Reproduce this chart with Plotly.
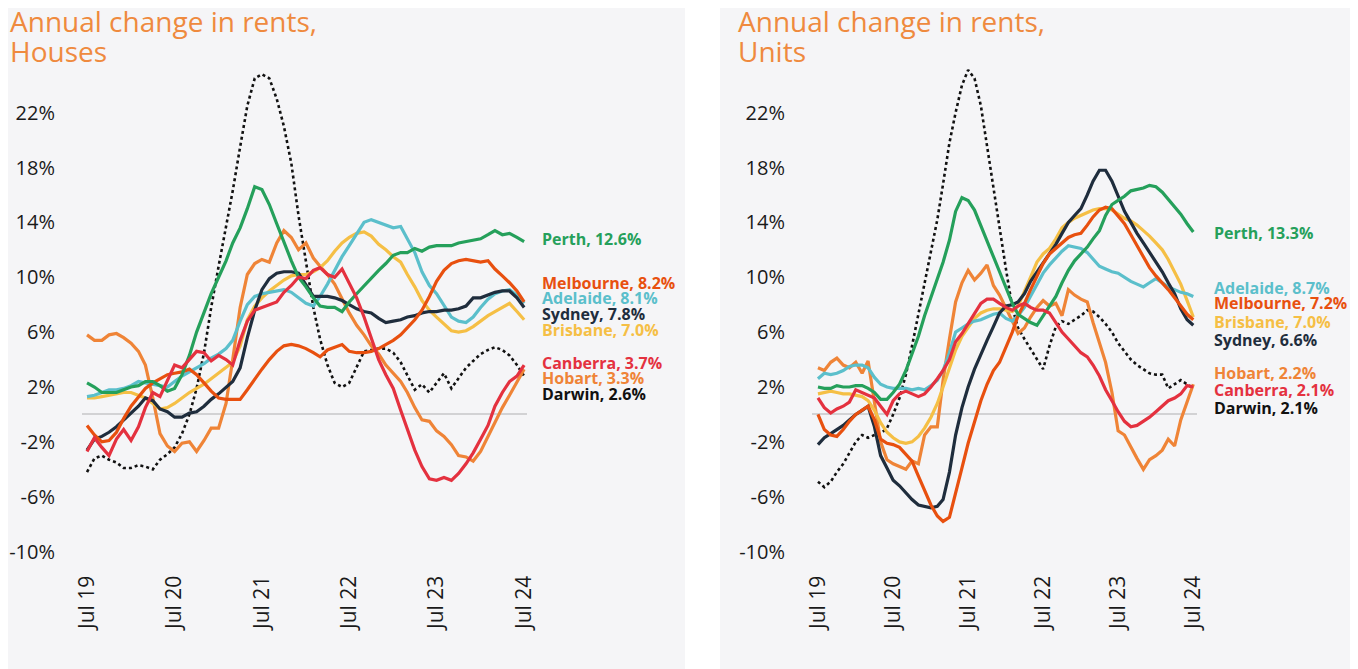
import pandas as pd
import plotly.graph_objects as go

# ---------------- DATA ----------------
months = pd.date_range("2019-07-01", periods=61, freq="MS")
tick_dates = ["2019-07-01", "2020-07-01", "2021-07-01", "2022-07-01", "2023-07-01", "2024-07-01"]
tick_labels = ["Jul 19", "Jul 20", "Jul 21", "Jul 22", "Jul 23", "Jul 24"]
y_ticks = [-10, -6, -2, 2, 6, 10, 14, 18, 22]
y_tick_labels = ["-10%", "-6%", "-2%", "2%", "6%", "10%", "14%", "18%", "22%"]

cities = ["Darwin", "Hobart", "Brisbane", "Adelaide", "Sydney", "Melbourne", "Perth", "Canberra"]

# Houses
houses_perth = [2.3, 2.0, 1.6, 1.6, 1.6, 1.8, 2.0, 2.1, 2.4, 2.4, 2.1, 1.7, 1.9, 2.9, 4.3, 6.0, 7.5, 8.8, 10.0, 11.2,
                12.5, 13.6, 15.0, 16.6, 16.4, 15.3, 13.9, 12.5, 11.2, 10.0, 9.3, 8.5, 7.9, 7.8, 7.8, 7.5, 8.2, 8.8, 9.4, 9.9,
                10.5, 11.0, 11.6, 11.8, 11.8, 12.1, 11.9, 12.2, 12.3, 12.3, 12.3, 12.5, 12.6, 12.7, 12.8, 13.1, 13.4, 13.1, 13.2, 12.9, 12.6]
houses_melbourne = [-0.8, -1.5, -2.0, -1.9, -1.3, -0.3, 0.6, 1.3, 1.9, 2.3, 2.6, 2.9, 3.0, 3.1, 3.3, 2.9, 2.3, 1.7, 1.2, 1.1,
                    1.1, 1.1, 1.8, 2.6, 3.3, 4.0, 4.6, 5.0, 5.1, 5.0, 4.8, 4.5, 4.2, 4.7, 4.9, 5.1, 4.6, 4.5, 4.5, 4.6,
                    4.8, 5.1, 5.4, 5.8, 6.3, 6.9, 7.6, 8.6, 9.7, 10.5, 11.0, 11.2, 11.3, 11.2, 11.1, 11.2, 10.6, 10.1, 9.6, 9.0, 8.2]
houses_adelaide = [1.3, 1.4, 1.6, 1.8, 1.8, 1.9, 2.1, 2.4, 2.3, 2.2, 2.1, 2.0, 2.4, 2.8, 3.1, 3.4, 3.7, 4.1, 4.4, 4.8,
                   5.4, 6.8, 8.0, 8.6, 8.8, 8.9, 9.0, 9.1, 8.9, 8.5, 8.1, 7.9, 8.6, 9.5, 10.5, 11.5, 12.3, 13.2, 14.0, 14.2,
                   14.0, 13.8, 13.6, 13.7, 12.8, 11.8, 10.4, 9.4, 8.8, 8.0, 7.1, 6.8, 6.7, 7.1, 7.8, 8.4, 8.8, 9.0, 9.1, 8.7, 8.1]
houses_sydney = [-2.6, -1.8, -1.6, -1.3, -0.9, -0.4, 0.1, 0.6, 1.2, 1.0, 0.4, 0.2, -0.2, -0.2, 0.1, 0.2, 0.6, 1.1, 1.5, 2.0,
                 2.4, 3.4, 5.6, 7.6, 9.1, 9.9, 10.3, 10.4, 10.4, 10.3, 9.5, 8.6, 8.6, 8.6, 8.5, 8.3, 8.0, 7.7, 7.5, 7.4,
                 7.0, 6.7, 6.8, 6.9, 7.1, 7.2, 7.4, 7.5, 7.5, 7.6, 7.6, 7.7, 7.9, 8.5, 8.5, 8.7, 8.9, 9.0, 9.0, 8.5, 7.8]
houses_brisbane = [1.2, 1.2, 1.3, 1.4, 1.5, 1.6, 1.6, 1.4, 1.2, 0.8, 0.4, 0.5, 0.8, 1.2, 1.6, 1.9, 2.2, 2.6, 3.0, 3.4,
                   3.8, 5.0, 6.9, 7.9, 8.5, 9.0, 9.4, 9.8, 10.1, 10.2, 10.2, 10.4, 10.7, 11.2, 11.9, 12.5, 12.9, 13.2, 13.3, 13.0,
                   12.4, 12.0, 11.5, 11.1, 10.2, 9.3, 8.3, 7.6, 7.1, 6.6, 6.1, 6.0, 6.1, 6.4, 6.8, 7.2, 7.5, 7.8, 8.1, 7.5, 6.9]
houses_canberra = [-2.7, -1.7, -2.4, -3.0, -1.8, -1.1, -1.9, -0.9, 0.5, 1.6, 1.3, 2.5, 3.6, 3.4, 4.0, 4.6, 4.5, 3.9, 4.3, 4.0,
                   3.6, 5.4, 6.8, 7.6, 7.8, 8.0, 8.2, 8.9, 9.4, 10.0, 9.9, 10.5, 10.7, 10.2, 10.0, 10.6, 9.6, 8.5, 7.1, 5.5,
                   4.0, 2.9, 1.9, 0.3, -1.1, -2.6, -3.8, -4.7, -4.8, -4.6, -4.8, -4.3, -3.6, -2.8, -1.8, -0.8, 0.6, 1.6, 2.4, 2.8, 3.6]
houses_hobart = [5.8, 5.4, 5.4, 5.8, 5.9, 5.6, 5.2, 4.6, 3.6, 1.2, -1.4, -2.3, -2.7, -2.1, -2.0, -2.7, -1.9, -1.0, -1.0, 0.8,
                 4.0, 7.8, 10.2, 11.0, 11.3, 11.1, 12.5, 13.4, 12.9, 12.0, 12.5, 11.4, 10.8, 10.2, 9.5, 8.4, 7.4, 6.5, 5.8, 5.0,
                 4.4, 3.6, 3.0, 2.4, 1.6, 0.5, -0.4, -0.5, -1.2, -1.6, -2.2, -3.0, -3.1, -3.4, -2.7, -1.6, -0.5, 0.5, 1.4, 2.4, 3.3]
houses_darwin = [-4.2, -3.2, -3.0, -3.3, -3.5, -3.9, -3.9, -3.7, -3.8, -4.0, -3.3, -2.9, -2.4, -1.4, 0.0, 1.9, 4.5, 7.8, 10.8, 13.6,
                 16.3, 19.5, 22.5, 24.5, 24.8, 24.5, 23.0, 21.0, 18.3, 14.5, 11.0, 7.8, 5.5, 3.6, 2.3, 2.0, 2.3, 3.5, 4.6, 4.7,
                 4.8, 4.8, 4.5, 3.8, 2.8, 1.8, 2.2, 1.6, 2.3, 3.0, 1.9, 2.6, 3.4, 3.9, 4.4, 4.7, 4.9, 4.7, 4.3, 3.6, 2.8]

# Units
units_perth = [2.0, 1.9, 1.9, 2.1, 2.0, 2.0, 2.1, 2.1, 1.9, 1.6, 1.1, 1.1, 1.6, 2.2, 3.2, 4.5, 5.7, 7.2, 8.6, 9.9,
               11.1, 12.7, 14.8, 15.8, 15.6, 14.9, 13.8, 12.6, 11.5, 10.4, 9.2, 8.1, 7.3, 7.0, 6.7, 6.5, 7.2, 7.9, 8.6, 9.6,
               10.5, 11.2, 11.7, 12.2, 12.8, 13.4, 14.5, 15.3, 15.6, 15.9, 16.3, 16.4, 16.5, 16.7, 16.6, 16.2, 15.7, 15.2, 14.6, 13.9, 13.3]
units_adelaide = [2.6, 3.0, 2.9, 3.0, 3.2, 3.5, 3.6, 3.6, 3.4, 2.7, 2.2, 2.0, 1.9, 1.9, 1.9, 1.8, 1.9, 1.8, 2.1, 2.5,
                  3.2, 4.5, 6.0, 6.3, 6.6, 6.8, 6.9, 7.1, 7.3, 7.4, 7.0, 6.8, 7.2, 7.8, 8.6, 9.4, 10.3, 10.9, 11.4, 11.9,
                  12.3, 12.2, 12.1, 11.8, 11.3, 10.8, 10.6, 10.4, 10.3, 10.0, 9.7, 9.5, 9.3, 9.6, 9.9, 9.6, 9.3, 9.1, 8.9, 8.8, 8.6]
units_melbourne = [0.0, -1.1, -1.5, -1.6, -1.1, -0.5, 0.0, 0.3, 0.6, -0.4, -1.8, -2.1, -2.2, -2.4, -2.9, -3.4, -4.5, -5.6, -6.6, -7.4,
                   -7.8, -7.5, -5.8, -3.9, -2.1, -0.5, 1.0, 2.2, 3.2, 3.8, 4.9, 6.0, 7.2, 8.1, 9.1, 10.1, 11.0, 11.7, 12.1, 12.5,
                   12.9, 13.1, 13.2, 13.8, 14.4, 14.9, 15.1, 15.0, 14.5, 13.9, 13.1, 12.3, 11.5, 10.7, 10.1, 9.6, 9.1, 8.5, 7.9, 7.3, 6.9]
units_sydney = [-2.2, -1.7, -1.4, -1.1, -0.8, -0.4, 0.0, 0.3, 0.6, -0.9, -3.0, -3.9, -4.8, -5.2, -5.7, -6.2, -6.6, -6.7, -6.8, -6.7,
                -6.2, -4.2, -1.5, 0.5, 2.0, 3.3, 4.4, 5.4, 6.4, 7.4, 7.9, 8.0, 8.2, 8.8, 9.7, 10.4, 11.0, 11.7, 12.4, 13.2,
                14.0, 14.5, 15.0, 16.0, 17.0, 17.8, 17.8, 17.0, 15.9, 14.8, 14.0, 13.2, 12.5, 11.8, 11.1, 10.4, 9.6, 8.8, 7.7, 6.9, 6.5]
units_brisbane = [1.5, 1.6, 1.7, 1.6, 1.5, 1.5, 1.4, 1.3, 1.0, 0.3, -0.6, -1.3, -1.7, -2.0, -2.1, -2.0, -1.6, -1.0, -0.2, 0.8,
                  2.0, 3.4, 4.7, 5.7, 6.3, 7.0, 7.4, 7.6, 7.7, 7.7, 7.6, 7.5, 7.9, 8.9, 10.0, 11.1, 11.7, 12.1, 12.8, 13.6,
                  14.0, 14.3, 14.5, 14.7, 14.9, 15.0, 15.0, 14.9, 14.6, 14.3, 14.1, 13.8, 13.4, 13.0, 12.5, 12.0, 11.3, 10.4, 9.5, 8.3, 7.1]
units_canberra = [1.2, 0.5, 0.1, 0.4, 0.6, 0.9, 1.8, 1.6, 1.4, 1.2, 0.6, 0.0, 1.0, 1.5, 1.7, 1.5, 1.3, 1.5, 2.0, 2.6,
                  3.2, 4.0, 5.3, 5.9, 6.6, 7.4, 8.1, 8.4, 8.4, 8.1, 7.8, 7.6, 7.9, 8.1, 7.8, 7.6, 7.6, 7.4, 6.7, 6.0,
                  5.5, 5.0, 4.5, 4.2, 3.6, 2.8, 1.8, 1.0, 0.2, -0.5, -0.9, -0.8, -0.5, -0.2, 0.2, 0.6, 1.0, 1.2, 1.5, 2.1, 2.0]
units_hobart = [3.4, 3.2, 3.8, 4.1, 3.6, 3.4, 3.8, 3.0, 3.9, 0.8, -2.0, -3.3, -3.6, -3.8, -4.0, -3.4, -3.6, -1.5, -0.9, -0.9,
                2.5, 5.5, 8.2, 9.6, 10.5, 9.8, 10.3, 10.9, 9.4, 8.7, 7.8, 6.8, 5.9, 6.3, 7.1, 7.8, 8.3, 7.9, 8.1, 7.2,
                9.1, 8.7, 8.4, 8.2, 6.7, 5.3, 3.8, 1.6, -1.2, -1.5, -2.4, -3.2, -4.0, -3.3, -3.0, -2.6, -1.8, -2.3, -0.4, 1.0, 2.2]
units_darwin = [-4.9, -5.3, -4.9, -4.2, -3.6, -2.8, -2.0, -1.5, -1.7, -1.5, -1.4, -1.0, 0.0, 1.2, 2.9, 5.0, 7.3, 9.5, 12.0, 14.2,
                16.8, 19.8, 22.0, 24.0, 25.1, 24.5, 22.5, 19.5, 16.5, 13.5, 10.6, 7.8, 6.3, 5.5, 4.8, 4.0, 3.3, 5.0, 6.4, 6.8,
                6.6, 6.9, 7.2, 7.6, 7.5, 7.1, 6.6, 6.0, 5.2, 4.6, 4.0, 3.6, 3.3, 3.0, 2.9, 2.9, 1.9, 2.2, 2.5, 2.2, 1.9]

# Latest values shown in end labels
houses_latest = {"Perth": 12.6, "Melbourne": 8.2, "Adelaide": 8.1, "Sydney": 7.8, "Brisbane": 7.0,
                 "Canberra": 3.7, "Hobart": 3.3, "Darwin": 2.6}
units_latest = {"Perth": 13.3, "Adelaide": 8.7, "Melbourne": 7.2, "Brisbane": 7.0, "Sydney": 6.6,
                "Hobart": 2.2, "Canberra": 2.1, "Darwin": 2.1}

houses = {"Perth": houses_perth, "Melbourne": houses_melbourne, "Adelaide": houses_adelaide, "Sydney": houses_sydney,
          "Brisbane": houses_brisbane, "Canberra": houses_canberra, "Hobart": houses_hobart, "Darwin": houses_darwin}
units = {"Perth": units_perth, "Melbourne": units_melbourne, "Adelaide": units_adelaide, "Sydney": units_sydney,
         "Brisbane": units_brisbane, "Canberra": units_canberra, "Hobart": units_hobart, "Darwin": units_darwin}

# ---------------- STYLE ----------------
colors = {"Perth": "#25a05b", "Melbourne": "#e8500f", "Adelaide": "#5bbfcb", "Sydney": "#1f2d3d",
          "Brisbane": "#f5bf45", "Canberra": "#e4313f", "Hobart": "#ef8437", "Darwin": "#111111"}
W, H = 1358, 669
OFF = 8  # page body margin offset
FONT = "Open Sans"
TITLE_COLOR = "#ef8a3e"
PANEL_BG = "#f5f5f7"

def px_x(p):
    return (p - OFF) / W

def px_y(p):
    return 1 - (p - OFF) / H

fig = go.Figure()

for xa, ya, data in [("x", "y", houses), ("x2", "y2", units)]:
    for c in cities:
        fig.add_trace(go.Scatter(
            x=months, y=data[c], mode="lines", name=c, xaxis=xa, yaxis=ya,
            line=dict(color=colors[c], width=3.2 if c != "Darwin" else 2.6,
                      dash="dot" if c == "Darwin" else "solid"),
            showlegend=False, hoverinfo="skip"))

axis_y = dict(range=[-10.5, 25.5], tickmode="array", tickvals=y_ticks, ticktext=y_tick_labels,
              showgrid=False, automargin=False,
              zeroline=True, zerolinecolor="#d2d2d4", zerolinewidth=2, showline=False,
              ticks="", ticklabelstandoff=26, tickfont=dict(family=FONT, size=20, color="#1a1a1a"))
axis_x = dict(type="date", tickmode="array", tickvals=tick_dates, ticktext=tick_labels, tickangle=-90,
              showgrid=False, automargin=False,
              zeroline=False, showline=False, ticks="", ticklabelstandoff=12,
              tickfont=dict(family=FONT, size=21, color="#1a1a1a"))

shapes = [
    dict(type="rect", xref="paper", yref="paper", x0=px_x(685), x1=px_x(720), y0=0, y1=1,
         fillcolor="white", line=dict(width=0), layer="below"),
]

annotations = []
for x0, lines in [(8, ["Annual change in rents,", "Houses"]), (736, ["Annual change in rents,", "Units"])]:
    for i, t in enumerate(lines):
        annotations.append(dict(text=t, xref="paper", yref="paper", x=px_x(x0), y=px_y(21 + 30 * i),
                                xanchor="left", yanchor="middle", showarrow=False,
                                font=dict(family=FONT, size=28, color=TITLE_COLOR)))

houses_label_y = {"Perth": 239, "Melbourne": 283, "Adelaide": 298, "Sydney": 314, "Brisbane": 330,
                  "Canberra": 363, "Hobart": 378, "Darwin": 394}
units_label_y = {"Perth": 233, "Adelaide": 288, "Melbourne": 303, "Brisbane": 322, "Sydney": 340,
                 "Hobart": 373, "Canberra": 390, "Darwin": 408}
for x0, latest, ly in [(540, houses_latest, houses_label_y), (1212, units_latest, units_label_y)]:
    for c, v in latest.items():
        annotations.append(dict(text=f"<b>{c}, {v:.1f}%</b>", xref="paper", yref="paper",
                                x=px_x(x0), y=px_y(ly[c]), xanchor="left", yanchor="middle", showarrow=False,
                                font=dict(family=FONT, size=16, color=colors[c])))

fig.update_layout(
    width=W, height=H, margin=dict(l=0, r=0, t=0, b=0, autoexpand=False),
    paper_bgcolor=PANEL_BG, plot_bgcolor="rgba(0,0,0,0)",
    xaxis=dict(axis_x, domain=[px_x(82), px_x(527)], range=["2019-06-10", "2024-07-13"], anchor="y"),
    yaxis=dict(axis_y, domain=[px_y(558.5), px_y(64.6)], anchor="x"),
    xaxis2=dict(axis_x, domain=[px_x(812), px_x(1197)], range=["2019-06-02", "2024-07-19"], anchor="y2"),
    yaxis2=dict(axis_y, domain=[px_y(558.5), px_y(64.6)], anchor="x2"),
    shapes=shapes, annotations=annotations, showlegend=False,
)

fig.write_html("out.html")
